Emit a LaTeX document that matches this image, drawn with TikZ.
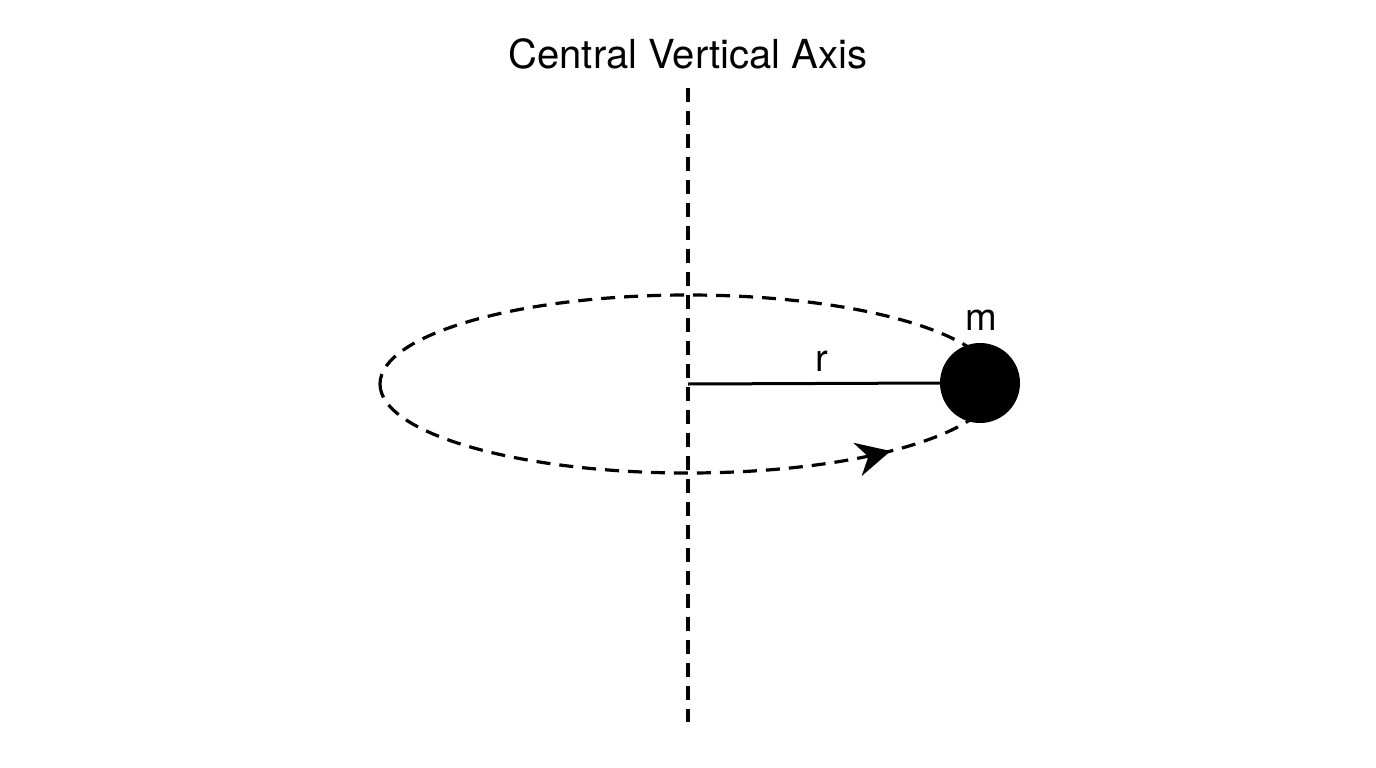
\documentclass[tikz,border=0pt]{standalone}
\usepackage{fontspec}
\setmainfont{TeX Gyre Heros}
\usetikzlibrary{arrows.meta,decorations.markings}
\begin{document}
\begin{tikzpicture}[x=1pt,y=-1pt,
  dashline/.style={line width=3.2pt,dash pattern=on 14pt off 9pt},
  lbl/.style={font=\fontsize{38}{44}\selectfont,inner sep=0pt}]
\useasboundingbox (0,0) rectangle (1376,768);
\fill[white] (0,0) rectangle (1376,768);
\coordinate (top) at (688,88);
\coordinate (bot) at (688,722);
\coordinate (c) at (688,384);
\draw[dashline] (top) -- (bot);
\draw[dashline,
  postaction={decorate,decoration={markings,
    mark=at position 0.402 with {\arrow{Stealth[length=34pt,width=34pt,inset=11pt]}}}}]
  (c) ++(180:308 and 89) arc[start angle=180,end angle=-180,x radius=308,y radius=89];
\node[circle,fill=black,minimum size=80pt,inner sep=0pt] (ball) at (980,383) {};
\draw[line width=3pt] (c) -- (ball.west);
\node[lbl,font=\fontsize{40}{46}\selectfont,anchor=base] (title) at (688,69) {Central Vertical Axis};
\node[lbl,anchor=base] (r) at (822,371) {r};
\node[lbl,anchor=base] (m) at (981,330) {m};
\end{tikzpicture}
\end{document}
